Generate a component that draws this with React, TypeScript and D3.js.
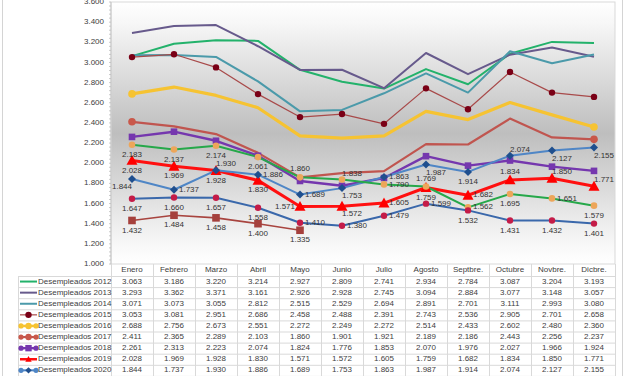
import React from "react";
import * as d3 from "d3";

const categories = ["Enero", "Febrero", "Marzo", "Abril", "Mayo", "Junio", "Julio", "Agosto", "Septbre.", "Octubre", "Novbre.", "Dicbre."];
const yTicks = [1000, 1200, 1400, 1600, 1800, 2000, 2200, 2400, 2600, 2800, 3000, 3200, 3400, 3600];

const s2012 = [3063, 3186, 3220, 3214, 2927, 2809, 2741, 2934, 2784, 3087, 3204, 3193];
const s2013 = [3293, 3362, 3371, 3161, 2926, 2928, 2745, 3094, 2884, 3077, 3148, 3057];
const s2014 = [3071, 3073, 3055, 2812, 2515, 2529, 2694, 2891, 2701, 3111, 2993, 3080];
const s2015 = [3053, 3081, 2951, 2686, 2458, 2488, 2391, 2743, 2536, 2905, 2701, 2658];
const s2016 = [2688, 2756, 2673, 2551, 2272, 2249, 2272, 2514, 2433, 2602, 2480, 2360];
const s2017 = [2411, 2365, 2289, 2103, 1860, 1901, 1921, 2189, 2186, 2443, 2256, 2237];
const s2018 = [2261, 2313, 2223, 2074, 1824, 1776, 1853, 2070, 1976, 2027, 1966, 1924];
const s2019 = [2028, 1969, 1928, 1830, 1571, 1572, 1605, 1759, 1682, 1834, 1850, 1771];
const s2020 = [1844, 1737, 1930, 1886, 1689, 1753, 1863, 1987, 1914, 2074, 2127, 2155];
const s2021 = [2183, 2137, 2174, 2061, 1860, 1838, 1790, 1769, 1562, 1695, 1651, 1579];
const s2022 = [1647, 1660, 1657, 1558, 1410, 1380, 1479, 1599, 1532, 1431, 1432, 1401];
const s2023 = [1432, 1484, 1458, 1400, 1335, null, null, null, null, null, null, null];

// label placement codes (style, not data)
const lab2019 = ["b", "b", "b", "b", "l", "br", "r", "b", "r", "t", "tr", "tr"];
const lab2020 = ["bl", "r", "tr", "r", "r", "br", "r", "br", "b", "tr", "br", "br"];
const lab2021 = ["b", "b", "b", "b", "t", "tr", "r", "t", "r", "b", "r", "b"];
const lab2022 = ["b", "b", "b", "b", "r", "r", "r", "r", "b", "b", "b", "b"];
const lab2023 = ["b", "b", "b", "b", "b"];

type Series = {
  name: string;
  values: (number | null)[];
  color: string;
  width: number;
  marker?: "circle" | "square" | "triangle" | "diamond";
  mColor?: string;
  mSize?: number;
  markerAt?: "all" | "ends";
  labels?: string[];
  legendEnds?: boolean;
};

const series: Series[] = [
  { name: "Desempleados 2012", values: s2012, color: "#23b26b", width: 2 },
  { name: "Desempleados 2013", values: s2013, color: "#675a8c", width: 2 },
  { name: "Desempleados 2014", values: s2014, color: "#4b9aaa", width: 2 },
  { name: "Desempleados 2015", values: s2015, color: "#a84a4a", width: 1.2, marker: "circle", mColor: "#7a0016", mSize: 3.2, markerAt: "all" },
  { name: "Desempleados 2016", values: s2016, color: "#f6c332", width: 3.2, marker: "circle", mColor: "#f6c332", mSize: 3.8, markerAt: "ends", legendEnds: true },
  { name: "Desempleados 2017", values: s2017, color: "#c0554f", width: 2.2, marker: "circle", mColor: "#c9584a", mSize: 3.8, markerAt: "ends", legendEnds: true },
  { name: "Desempleados 2018", values: s2018, color: "#7537ae", width: 2.4, marker: "square", mColor: "#7537ae", mSize: 3.3, markerAt: "all", legendEnds: true },
  { name: "Desempleados 2019", values: s2019, color: "#ff1010", width: 3, marker: "triangle", mColor: "#ff0000", mSize: 5.5, markerAt: "all", labels: lab2019 },
  { name: "Desempleados 2020", values: s2020, color: "#4f86c6", width: 2, marker: "diamond", mColor: "#1f4f8e", mSize: 4, markerAt: "all", labels: lab2020, legendEnds: true },
  { name: "Desempleados 2021", values: s2021, color: "#26a84a", width: 2, marker: "circle", mColor: "#eda65a", mSize: 3.3, markerAt: "all", labels: lab2021 },
  { name: "Desempleados 2022", values: s2022, color: "#3a68ab", width: 2, marker: "circle", mColor: "#c41c48", mSize: 3.2, markerAt: "all", labels: lab2022 },
  { name: "Desempleados 2023", values: s2023, color: "#a8443f", width: 1.6, marker: "square", mColor: "#a5403c", mSize: 3.8, markerAt: "all", labels: lab2023 },
];

const W = 627;
const H = 376;
const plotL = 111;
const plotR = 615;
const plotT = 2;
const plotB = 264;
const rowH = 11.1;
const headerH = 12;
const tableL = 18;
const FONT = "'Liberation Sans', Arial, sans-serif";
const TXT = "#404040";

const loc = d3.formatLocale({ decimal: ",", thousands: ".", grouping: [3], currency: ["", ""] });
const fmt = loc.format(",d");

function Marker({ type, x, y, s, fill }: { type: string; x: number; y: number; s: number; fill: string }) {
  if (type === "circle") return <circle cx={x} cy={y} r={s} fill={fill} />;
  if (type === "square") return <rect x={x - s} y={y - s} width={2 * s} height={2 * s} fill={fill} />;
  if (type === "triangle")
    return <path d={`M${x},${y - s}L${x + s},${y + s * 0.8}L${x - s},${y + s * 0.8}Z`} fill={fill} />;
  return <path d={`M${x},${y - s}L${x + s},${y}L${x},${y + s}L${x - s},${y}Z`} fill={fill} />;
}

const offs: Record<string, [number, number]> = {
  b: [0, 10],
  t: [0, -8],
  r: [15, 0],
  l: [-15, 0],
  br: [10, 8],
  bl: [-10, 8],
  tr: [10, -6],
};

export default function App() {
  const x = d3.scaleBand<string>().domain(categories).range([plotL, plotR]);
  const y = d3.scaleLinear().domain([1000, 3600]).range([plotB, plotT]);
  const cx = (c: string) => (x(c) as number) + x.bandwidth() / 2;
  const minor = d3.range(1000, 3601, 40);

  return (
    <div style={{ position: "fixed", left: 0, top: 0, width: W, height: H, overflow: "hidden", background: "#fff" }}>
      <svg width={W} height={H} style={{ display: "block" }} fontFamily={FONT}>
        <defs>
          <linearGradient id="bg" x1="0" y1="0" x2="0" y2="1">
            <stop offset="0" stopColor="#ffffff" />
            <stop offset="0.08" stopColor="#f7f7f7" />
            <stop offset="0.5" stopColor="#bebebe" />
            <stop offset="0.92" stopColor="#f7f7f7" />
            <stop offset="1" stopColor="#ffffff" />
          </linearGradient>
        </defs>
        {/* outer frame */}
        <line x1={2.5} x2={2.5} y1={0} y2={H} stroke="#d4d4d4" />
        <line x1={622.5} x2={622.5} y1={0} y2={H} stroke="#d4d4d4" />

        {/* plot area */}
        <rect x={plotL} y={plotT} width={plotR - plotL} height={plotB - plotT} fill="url(#bg)" stroke="#d9d9d9" />
        <line x1={plotL} x2={plotL} y1={plotT} y2={plotB} stroke="#c8c8c8" />
        {minor.map((v) => (
          <line key={"m" + v} x1={plotL - 2} x2={plotL} y1={y(v)} y2={y(v)} stroke="#bcbcbc" strokeWidth={0.8} />
        ))}
        {yTicks.map((v) => (
          <text key={"yt" + v} x={104} y={y(v)} textAnchor="end" dominantBaseline="middle" fontSize={8} fill={TXT}>
            {fmt(v)}
          </text>
        ))}

        {/* series lines */}
        {series.map((s) => {
          const line = d3
            .line<number | null>()
            .defined((d) => d != null)
            .x((_, i) => cx(categories[i]))
            .y((d) => y(d as number));
          return (
            <path key={"l" + s.name} d={line(s.values) || ""} fill="none" stroke={s.color} strokeWidth={s.width} strokeLinejoin="round" />
          );
        })}
        {/* markers */}
        {series.map((s) => {
          if (!s.marker) return null;
          const defined = s.values.map((v, i) => ({ v, i })).filter((d) => d.v != null);
          const pts = s.markerAt === "ends" ? [defined[0], defined[defined.length - 1]] : defined;
          return (
            <g key={"mk" + s.name}>
              {pts.map((p) => (
                <Marker key={p.i} type={s.marker as string} x={cx(categories[p.i])} y={y(p.v as number)} s={s.mSize as number} fill={s.mColor as string} />
              ))}
            </g>
          );
        })}
        {/* data labels */}
        {series.map((s) => {
          if (!s.labels) return null;
          return (
            <g key={"lb" + s.name}>
              {s.values.map((v, i) => {
                if (v == null) return null;
                const [dx, dy] = offs[s.labels![i]] || [0, 10];
                return (
                  <text key={i} x={cx(categories[i]) + dx} y={y(v) + dy} textAnchor="middle" dominantBaseline="middle" fontSize={8} fill="#333">
                    {fmt(v)}
                  </text>
                );
              })}
            </g>
          );
        })}

        {/* data table */}
        <g>
          {/* header row */}
          {categories.map((c) => (
            <text key={"h" + c} x={cx(c)} y={plotB + headerH / 2} textAnchor="middle" dominantBaseline="middle" fontSize={8} fill={TXT}>
              {c}
            </text>
          ))}
          {categories.map((c, i) => (
            <line key={"vh" + i} x1={(x(c) as number) + 0.5} x2={(x(c) as number) + 0.5} y1={plotB} y2={H} stroke="#d9d9d9" />
          ))}
          <line x1={plotR + 0.5} x2={plotR + 0.5} y1={plotB} y2={H} stroke="#d9d9d9" />
          <line x1={tableL + 0.5} x2={tableL + 0.5} y1={plotB + headerH} y2={H} stroke="#d9d9d9" />
          {series.map((s, r) => {
            const top = plotB + headerH + r * rowH;
            const mid = top + rowH / 2;
            return (
              <g key={"row" + s.name}>
                <line x1={tableL} x2={plotR} y1={top + 0.5} y2={top + 0.5} stroke="#d9d9d9" />
                {/* legend key */}
                <line x1={20} x2={37} y1={mid} y2={mid} stroke={s.color} strokeWidth={Math.min(s.width, 2.5)} />
                {s.marker && (
                  <>
                    <Marker type={s.marker} x={28.5} y={mid} s={Math.min(s.mSize as number, 3.2)} fill={s.mColor as string} />
                    {s.legendEnds && (
                      <>
                        <circle cx={21} cy={mid} r={2.6} fill={s.mColor === "#1f4f8e" ? s.color : (s.mColor as string)} />
                        <circle cx={36} cy={mid} r={2.6} fill={s.mColor === "#1f4f8e" ? s.color : (s.mColor as string)} />
                      </>
                    )}
                  </>
                )}
                <text x={38} y={mid} dominantBaseline="middle" fontSize={8} fill={TXT}>
                  {s.name}
                </text>
                {s.values.map((v, i) =>
                  v == null ? null : (
                    <text key={i} x={cx(categories[i])} y={mid} textAnchor="middle" dominantBaseline="middle" fontSize={8} fill={TXT}>
                      {fmt(v)}
                    </text>
                  )
                )}
              </g>
            );
          })}
        </g>
      </svg>
    </div>
  );
}
